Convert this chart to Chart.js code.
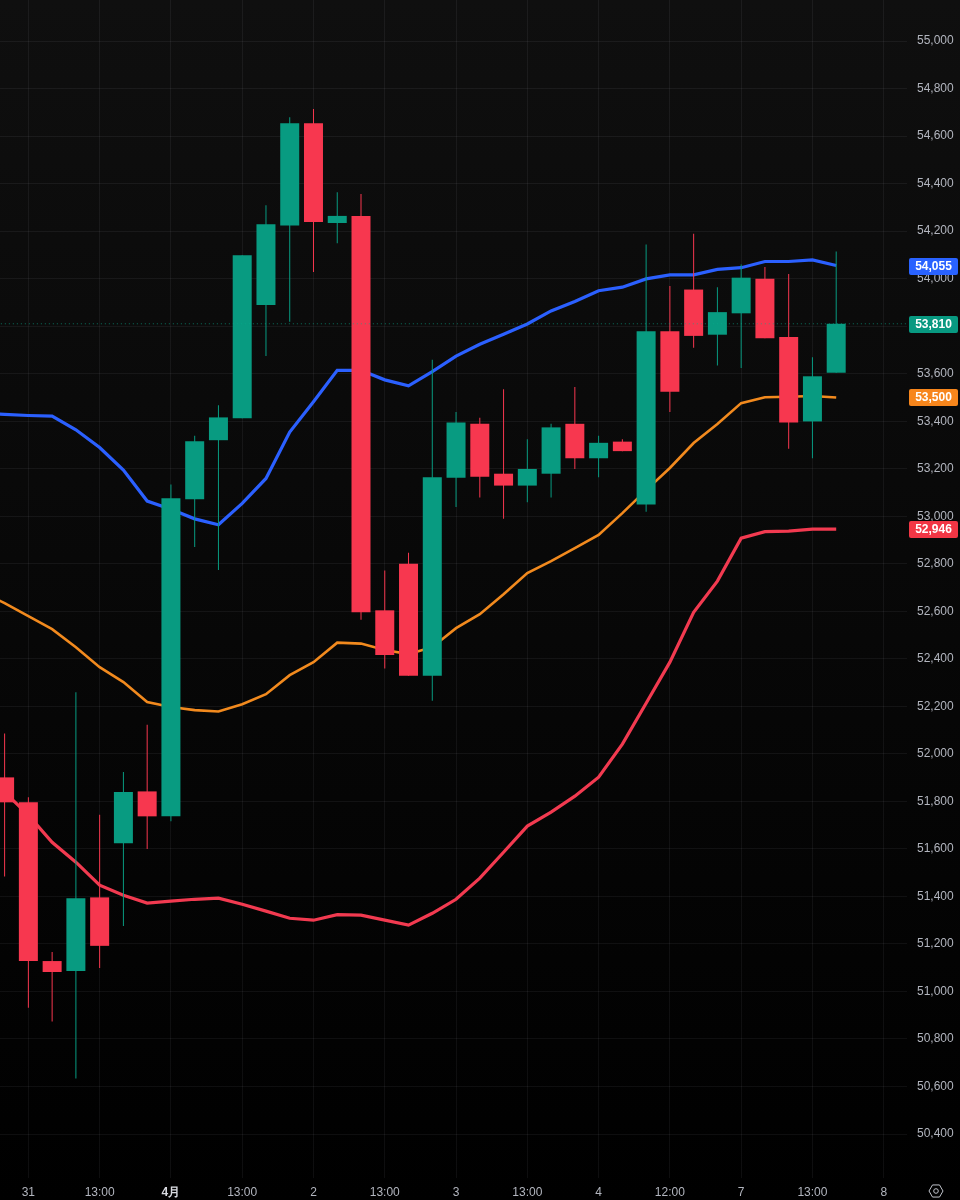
<!DOCTYPE html>
<html>
<head>
<meta charset="utf-8">
<script src="https://cdn.jsdelivr.net/npm/chart.js@4"></script>
<style>
html,body{margin:0;padding:0;width:960px;height:1200px;overflow:hidden;background:linear-gradient(to bottom,#0f0f0f 0%,#000000 100%);}
canvas{display:block;}
</style>
</head>
<body>
<canvas id="c" width="960" height="1200"></canvas>
<script>
const opens  = [51901,51796,51128,51086,51396,51624,51842,51737,53072,53320,53412,53889,54224,54654,54234,54264,52604,52800,52329,53162,53389,53179,53129,53179,53389,53244,53314,53049,53779,53954,53764,53854,53999,53754,53399,53604];
const highs  = [52086,51817,51166,52259,51744,51924,52122,53134,53339,53467,54098,54309,54679,54714,54364,54356,52772,52846,53659,53439,53414,53534,53324,53389,53544,53339,53324,54144,53969,54189,53964,54059,54049,54019,53669,54114];
const lows   = [51484,50932,50874,50634,51099,51276,51600,51716,52871,52774,53412,53674,53819,54028,54149,52564,52359,52329,52224,53039,53079,52989,53059,53079,53199,53164,53274,53019,53439,53709,53634,53624,53749,53284,53244,53604];
const closes = [51796,51128,51082,51392,51192,51839,51737,53076,53316,53416,54098,54229,54654,54238,54264,52596,52416,52329,53164,53394,53166,53129,53199,53374,53244,53309,53274,53779,53524,53759,53859,54004,53749,53394,53589,53810];
// band values start one bar before the first candle (off the left edge)
const upperBand = [53432,53429,53424,53421,53364,53289,53194,53064,53029,52989,52964,53054,53159,53354,53482,53614,53614,53574,53549,53609,53674,53724,53766,53809,53864,53904,53949,53964,53999,54016,54016,54039,54046,54072,54072,54079,54055];
const midBand   = [52684,52634,52580,52525,52449,52365,52302,52218,52197,52184,52178,52209,52251,52331,52386,52468,52464,52437,52420,52449,52529,52588,52672,52761,52811,52866,52921,53013,53110,53203,53308,53388,53476,53501,53503,53506,53500];
const lowerBand = [51934,51839,51742,51628,51544,51447,51405,51372,51380,51388,51393,51367,51338,51308,51300,51323,51321,51300,51279,51329,51388,51477,51586,51696,51755,51822,51902,52041,52213,52386,52596,52727,52908,52935,52937,52946,52946];
const xTickIndex = [1,4,7,10,13,16,19,22,25,28,31,34,37];
const xTickLabels = ["31","13:00","4月","13:00","2","13:00","3","13:00","4","12:00","7","13:00","8"];
const yTicks = [50400,50600,50800,51000,51200,51400,51600,51800,52000,52200,52400,52600,52800,53000,53200,53400,53600,53800,54000,54200,54400,54600,54800,55000];
const lastPrice = 53810;
const badgeValues = [54055,53810,53500,52946];
const badgeLabels = ["54,055","53,810","53,500","52,946"];
const badgeColors = ["#2962ff","#089981","#f7861c","#f23645"];

const GREEN="#089b81", RED="#f7374f";
const candleColors = closes.map((c,i)=> c>=opens[i] ? GREEN : RED);
const pts = a => a.map((v,i)=>({x:i-1,y:v}));
const FONT = '"Liberation Sans", Arial, sans-serif';
const GRID = "rgba(240,243,250,0.06)";

const overlay = {
  id:"overlay",
  afterDraw(ch){
    const g=ch.ctx, ys=ch.scales.y;
    g.save();
    badgeValues.forEach((v,i)=>{
      const py=ys.getPixelForValue(v);
      g.fillStyle=badgeColors[i];
      g.beginPath();
      g.roundRect(909,Math.round(py)-8,49,17,2);
      g.fill();
      g.fillStyle="#ffffff";
      g.font="bold 12px "+FONT;
      g.textAlign="center";
      g.textBaseline="middle";
      g.fillText(badgeLabels[i],933.5,Math.round(py)+1);
    });
    // settings icon
    const cx=936,cy=1191,r=7;
    g.strokeStyle="#c0c3cb";g.lineWidth=1;
    g.beginPath();
    for(let k=0;k<6;k++){
      const a=Math.PI/3*k;
      const px=cx+r*Math.cos(a),qy=cy+r*Math.sin(a);
      k?g.lineTo(px,qy):g.moveTo(px,qy);
    }
    g.closePath();g.stroke();
    g.beginPath();g.arc(cx,cy,2.3,0,Math.PI*2);g.stroke();
    g.restore();
  }
};
const noPad = s => { s.paddingTop=0; s.paddingBottom=0; s.paddingLeft=0; s.paddingRight=0; };

new Chart(document.getElementById("c"),{
  type:"bar",
  data:{datasets:[
    {type:"line",label:"last",data:[{x:-1,y:lastPrice},{x:39,y:lastPrice}],borderColor:"rgba(8,170,140,0.65)",borderWidth:1,borderDash:[1,3],pointRadius:0,order:0},
    {type:"bar",label:"body",grouped:false,barThickness:19,inflateAmount:0,order:1,
      data:opens.map((o,i)=>({x:i,y:[Math.min(o,closes[i]),Math.max(o,closes[i])]})),
      backgroundColor:candleColors},
    {type:"bar",label:"wick",grouped:false,barThickness:1,inflateAmount:0,order:2,
      data:highs.map((h,i)=>({x:i,y:[lows[i],h]})),
      backgroundColor:candleColors},
    {type:"line",label:"upper",data:pts(upperBand),borderColor:"#2b60ff",borderWidth:3.2,pointRadius:0,tension:0,order:3},
    {type:"line",label:"mid",data:pts(midBand),borderColor:"#f28a1e",borderWidth:2.6,pointRadius:0,tension:0,order:4},
    {type:"line",label:"lower",data:pts(lowerBand),borderColor:"#f23a50",borderWidth:3.2,pointRadius:0,tension:0,order:5}
  ]},
  options:{
    responsive:false,animation:false,devicePixelRatio:1,
    layout:{padding:0,autoPadding:false},
    plugins:{legend:{display:false},tooltip:{enabled:false}},
    scales:{
      x:{type:"linear",offset:false,min:-0.194,max:37.98,
        grid:{color:GRID,drawTicks:false,offset:false},border:{display:false},
        afterFit(s){s.height=22;noPad(s);},
        afterBuildTicks(s){s.ticks=xTickIndex.map(v=>({value:v}));},
        ticks:{autoSkip:false,maxRotation:0,padding:7,
          color:c=>c.tick&&c.tick.value===7?"#d8dae0":"#b2b5be",
          font:c=>({family:FONT,size:12,weight:c.tick&&c.tick.value===7?"bold":"normal"}),
          callback:(v)=>xTickLabels[xTickIndex.indexOf(v)]}
      },
      y:{type:"linear",position:"right",min:50215,max:55172.6,
        grid:{color:GRID,drawTicks:false},border:{display:false},
        afterFit(s){s.width=53;noPad(s);},
        afterBuildTicks(s){s.ticks=yTicks.map(v=>({value:v}));},
        ticks:{padding:10,color:"#b2b5be",font:{family:FONT,size:12},
          callback:v=>v.toLocaleString("en-US")}
      }
    }
  },
  plugins:[overlay]
});
</script>
</body>
</html>
